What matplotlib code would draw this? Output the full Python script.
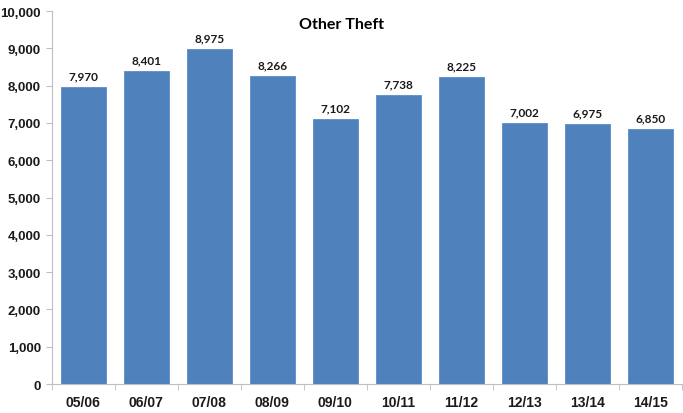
import matplotlib.pyplot as plt
import numpy as np
from matplotlib.ticker import FuncFormatter, FixedLocator

years = ['05/06', '06/07', '07/08', '08/09', '09/10', '10/11', '11/12', '12/13', '13/14', '14/15']
offences = [7970, 8401, 8975, 8266, 7102, 7738, 8225, 7002, 6975, 6850]

fig = plt.figure(figsize=(6.83, 4.14), dpi=100)
ax = fig.add_axes([0.076, 0.070, 0.922, 0.901])

x = np.arange(len(years))
ax.bar(x, offences, width=0.71, color='#4F81BD', edgecolor='#5B8CC6', linewidth=0.6)

for xi, v in zip(x, offences):
    ax.text(xi, v + 150, f'{v:,}', ha='center', va='bottom',
            fontsize=8.5, fontweight='bold', family='Lato', color='#1a1a1a')

ax.text(0.46, 0.985, 'Other Theft', transform=ax.transAxes, ha='center', va='top',
        fontsize=11.5, fontweight='bold', family='Lato')

ax.set_xlim(-0.5, len(years) - 0.5)
ax.set_ylim(0, 10000)
ax.set_yticks(np.arange(0, 10001, 1000))
ax.yaxis.set_major_formatter(FuncFormatter(lambda v, p: f'{int(v):,}'))
ax.set_xticks(x)
ax.set_xticklabels(years)
ax.xaxis.set_minor_locator(FixedLocator(np.arange(-0.5, len(years), 1.0)))

for lab in ax.get_xticklabels():
    lab.set_fontweight('bold')
    lab.set_fontsize(10)
    lab.set_family('Liberation Sans')
for lab in ax.get_yticklabels():
    lab.set_fontweight('bold')
    lab.set_fontsize(9.5)
    lab.set_family('Liberation Sans')

ax.spines['top'].set_visible(False)
ax.spines['right'].set_visible(False)
for s in ('left', 'bottom'):
    ax.spines[s].set_color('#BFBFBF')
ax.tick_params(axis='x', which='major', length=0, pad=8, colors='#1a1a1a')
ax.tick_params(axis='x', which='minor', length=4, color='#BFBFBF')
ax.tick_params(axis='y', length=4, color='#BFBFBF', labelcolor='#1a1a1a', pad=4)

fig.savefig('out.png', dpi=100)
